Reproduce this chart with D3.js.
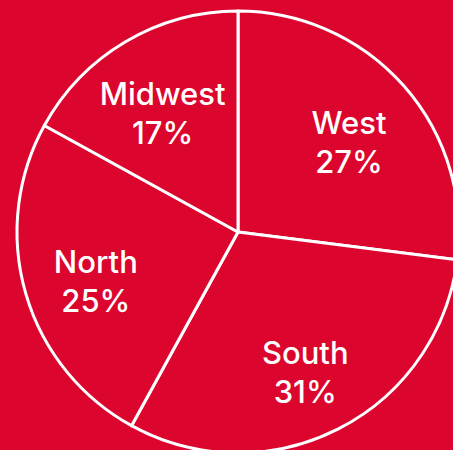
<!DOCTYPE html>
<html>
<head>
<meta charset="utf-8">
<script src="https://cdn.jsdelivr.net/npm/d3@7"></script>
<style>
  html, body { margin: 0; padding: 0; background: #dc052d; }
  svg { display: block; }
</style>
</head>
<body>
<div id="chart"></div>
<script>
// regions and their share
const regions = ['West', 'South', 'North', 'Midwest'];
const shares = [27, 31, 25, 17];

function drawPie(selector) {
    const width = 453, height = 450;
    const cx = 238, cy = 232, radius = 221;

    const svg = d3.select(selector).append('svg')
        .attr('width', width)
        .attr('height', height);

    svg.append('rect')
        .attr('width', width)
        .attr('height', height)
        .attr('fill', '#dc052d');

    const g = svg.append('g')
        .attr('transform', `translate(${cx},${cy})`);

    const data = regions.map((r, i) => ({ region: r, value: shares[i] }));

    const pie = d3.pie().value(d => d.value).sort(null);
    const arc = d3.arc().innerRadius(0).outerRadius(radius);
    const labelArc = d3.arc().innerRadius(radius * 0.67).outerRadius(radius * 0.67);

    const slices = g.selectAll('.slice')
        .data(pie(data))
        .enter().append('g')
        .attr('class', 'slice');

    slices.append('path')
        .attr('d', arc)
        .attr('fill', '#dc052d')
        .attr('stroke', '#fff')
        .attr('stroke-width', 3)
        .attr('stroke-linejoin', 'round');

    const labels = slices.append('text')
        .attr('transform', d => `translate(${labelArc.centroid(d)})`)
        .attr('text-anchor', 'middle')
        .attr('fill', '#fff')
        .style('font-family', 'Inter, "Noto Sans", sans-serif')
        .style('font-size', '31px')
        .style('font-weight', 500);

    labels.append('tspan')
        .attr('x', 0)
        .attr('y', 0)
        .text(d => d.data.region);

    labels.append('tspan')
        .attr('x', 0)
        .attr('y', 39)
        .text(d => d.data.value + '%');
}

drawPie('#chart');
</script>
</body>
</html>
